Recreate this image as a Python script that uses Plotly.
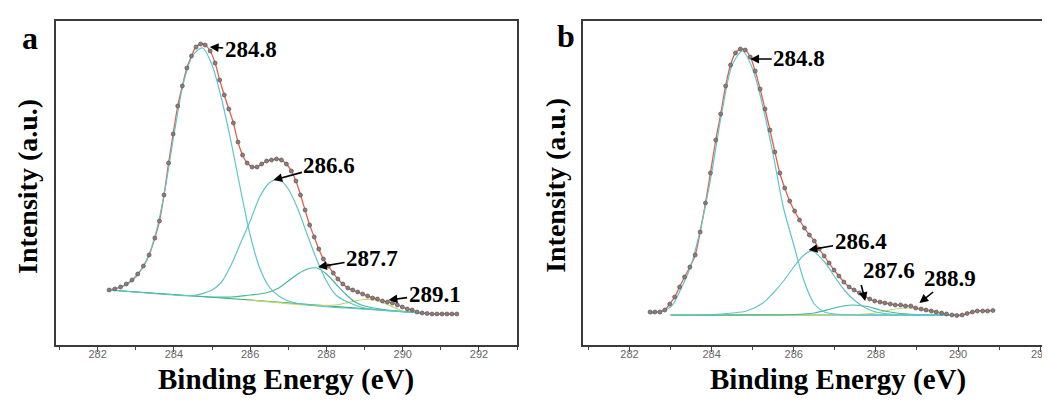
import plotly.graph_objects as go

# ---------------- Panel a : measured data ----------------
a_data_E = [282.30, 282.45, 282.60, 282.75, 282.90, 283.05, 283.20, 283.35, 283.50, 283.62,
            283.74, 283.86, 283.98, 284.10, 284.22, 284.34, 284.46, 284.58, 284.70, 284.82,
            284.95, 285.08, 285.20, 285.32, 285.44, 285.56, 285.68, 285.80, 285.92, 286.05,
            286.18, 286.30, 286.43, 286.56, 286.69, 286.82, 286.95, 287.08, 287.20, 287.32,
            287.44, 287.56, 287.68, 287.80, 287.92, 288.05, 288.18, 288.30, 288.43, 288.56,
            288.69, 288.82, 288.95, 289.08, 289.21, 289.34, 289.47, 289.60, 289.73, 289.86,
            289.99, 290.12, 290.25, 290.38, 290.51, 290.64, 290.77, 290.90, 291.03, 291.16,
            291.29, 291.42]
a_data_I = [55, 56, 58, 61, 65, 71, 79, 90, 107, 124,
            150, 182, 211, 239, 259, 277, 289, 298, 301, 300,
            294, 282, 265, 250, 236, 222, 203, 190, 182, 178,
            178, 181, 184, 185, 186, 185, 181, 174, 164, 150,
            135, 120, 108, 96, 86, 79, 72, 66, 61, 57,
            55, 53, 51, 49, 47, 46, 44, 43, 42, 40,
            38, 36, 35, 33, 32, 31.5, 31, 31, 31, 31,
            31, 31]

# Panel a : fitted components
a_bg_E = [282.3, 286.0, 290.5]
a_bg_I = [55, 45, 32]

a_c1_E = [282.30, 282.75, 283.00, 283.25, 283.50, 283.75, 284.00, 284.25, 284.50, 284.75,
          285.00, 285.25, 285.50, 285.75, 286.00, 286.25, 286.50, 286.75, 287.00, 287.50,
          288.50, 290.50]
a_c1_I = [55, 60, 68, 82, 108, 152, 210, 262, 290, 297,
          280, 246, 203, 155, 110, 77, 58, 49, 44, 40,
          37, 32]

a_c2_E = [282.30, 284.00, 284.50, 285.00, 285.25, 285.50, 285.75, 286.00, 286.25, 286.50,
          286.75, 287.00, 287.25, 287.50, 287.75, 288.00, 288.25, 288.50, 289.00, 290.50]
a_c2_I = [55, 50, 49.5, 55, 63, 80, 102, 124, 148, 162,
          166, 156, 136, 110, 85, 64, 50, 44, 37, 32]

a_c3_E = [282.30, 285.00, 285.50, 286.00, 286.25, 286.50, 286.75, 287.00, 287.25, 287.50,
          287.75, 288.00, 288.25, 288.50, 288.75, 289.00, 289.50, 290.50]
a_c3_I = [55, 48, 48, 50, 51, 53, 57, 64, 71, 76,
          77, 71, 61, 51, 43, 39, 35.5, 32]

a_c4_E = [286.00, 287.50, 288.25, 288.50, 288.75, 289.00, 289.25, 289.50, 289.75, 290.00, 290.50]
a_c4_I = [45, 40, 40, 42, 44, 45.5, 45, 42, 38, 34, 32]

# ---------------- Panel b : measured data ----------------
b_data_E = [282.50, 282.62, 282.74, 282.86, 282.98, 283.10, 283.22, 283.34, 283.47, 283.60,
            283.72, 283.85, 283.97, 284.10, 284.22, 284.34, 284.46, 284.58, 284.70, 284.82,
            284.94, 285.06, 285.18, 285.30, 285.42, 285.54, 285.66, 285.78, 285.90, 286.02,
            286.14, 286.26, 286.38, 286.50, 286.62, 286.74, 286.86, 286.98, 287.10, 287.22,
            287.35, 287.47, 287.60, 287.72, 287.85, 287.97, 288.10, 288.22, 288.35, 288.47,
            288.60, 288.72, 288.85, 288.97, 289.10, 289.22, 289.35, 289.47, 289.60, 289.72,
            289.85, 289.97, 290.10, 290.22, 290.35, 290.47, 290.60, 290.72, 290.85]
b_data_I = [33, 33, 33, 35, 41, 48, 58, 68, 78, 90,
            113, 142, 172, 205, 231, 259, 280, 292, 296, 295,
            288, 274, 256, 236, 215, 193, 172, 157, 144, 134,
            125, 117, 110, 104, 96, 89, 82, 75, 69, 63,
            58, 55, 52, 49, 46, 44, 43, 42, 41, 40,
            40, 39, 39, 37, 36, 35, 34, 33, 32, 31,
            30, 29.5, 30, 31.5, 33, 34, 34, 34, 34.5]

b_bg_E = [283.0, 290.0]
b_bg_I = [30, 30]

b_c1_E = [282.50, 283.00, 283.25, 283.50, 283.75, 284.00, 284.25, 284.50, 284.75, 285.00,
          285.25, 285.50, 285.75, 286.00, 286.25, 286.50, 286.75, 287.00, 287.50, 290.00]
b_c1_I = [31, 38, 56, 80, 120, 172, 233, 280, 294, 276,
          238, 190, 137, 100, 64, 41, 33, 31, 30, 30]

b_c2_E = [283.00, 284.00, 284.50, 284.85, 285.25, 285.50, 285.75, 286.00, 286.25, 286.45,
          286.75, 287.00, 287.25, 287.50, 287.75, 288.00, 288.50, 290.00]
b_c2_I = [30, 30.5, 32, 34, 42, 52, 64, 78, 90, 94,
          83, 68, 54, 44, 37, 33, 30.5, 30]

b_c3_E = [283.00, 286.00, 286.50, 286.90, 287.20, 287.45, 287.80, 288.10, 288.50, 289.00, 290.00]
b_c3_I = [30, 30.5, 32, 36, 39, 40, 38.5, 35, 32, 30.5, 30]

b_c4_E = [283.00, 287.50, 288.00, 288.40, 288.70, 289.00, 289.40, 289.80, 290.00]
b_c4_I = [30, 30.5, 32, 35.5, 37, 36, 33, 30.5, 30]

# tick values / labels
tick_vals = [282, 284, 286, 288, 290, 292]
peak_labels_a = ["284.8", "286.6", "287.7", "289.1"]
peak_labels_b = ["284.8", "286.4", "287.6", "288.9"]

RED = "#e5604a"
C1 = "#5cc6cf"
C2 = "#62c4c3"
C3 = "#45b99e"
C4 = "#c2d672"
BG = "#35a862"
MK = "#8a7f7f"

fig = go.Figure()

def add_panel(xa, ya, dE, dI, bg, comps):
    fig.add_trace(go.Scatter(x=dE, y=dI, mode="lines", line=dict(color=RED, width=1.3, shape="spline"),
                             xaxis=xa, yaxis=ya, hoverinfo="skip"))
    fig.add_trace(go.Scatter(x=bg[0], y=bg[1], mode="lines", line=dict(color=BG, width=1.2),
                             xaxis=xa, yaxis=ya, hoverinfo="skip"))
    for (E, I, col) in comps:
        fig.add_trace(go.Scatter(x=E, y=I, mode="lines", line=dict(color=col, width=1.2, shape="spline", smoothing=0.8),
                                 xaxis=xa, yaxis=ya, hoverinfo="skip"))
    fig.add_trace(go.Scatter(x=dE, y=dI, mode="markers",
                             marker=dict(color=MK, size=4, line=dict(color="#5e5252", width=0.7)),
                             xaxis=xa, yaxis=ya, hoverinfo="skip"))

add_panel("x", "y", a_data_E, a_data_I, (a_bg_E, a_bg_I),
          [(a_c4_E, a_c4_I, C4), (a_c3_E, a_c3_I, C3), (a_c2_E, a_c2_I, C2), (a_c1_E, a_c1_I, C1)])
add_panel("x2", "y2", b_data_E, b_data_I, (b_bg_E, b_bg_I),
          [(b_c4_E, b_c4_I, C4), (b_c3_E, b_c3_I, C3), (b_c2_E, b_c2_I, C2), (b_c1_E, b_c1_I, C1)])

W, H = 1050, 401
ydom = [(401 - 337) / H, (401 - 13) / H]

xcommon = dict(showgrid=False, zeroline=False, showline=True, linecolor="#3a3a3a", linewidth=1.5,
               mirror=True, ticks="outside", ticklen=5, tickwidth=1, tickcolor="#444",
               tickvals=tick_vals, ticktext=[str(v) for v in tick_vals], ticklabelstandoff=-7,
               tickfont=dict(family="Liberation Sans", size=11, color="#666"),
               minor=dict(dtick=1, tick0=281, ticks="outside", ticklen=3, tickcolor="#444"))
ycommon = dict(showgrid=False, zeroline=False, showline=True, linecolor="#3a3a3a", linewidth=1.5,
               mirror=True, showticklabels=False, ticks="", range=[0, 324])

fig.update_layout(
    width=W, height=H, margin=dict(l=0, r=0, t=0, b=0),
    paper_bgcolor="white", plot_bgcolor="white", showlegend=False,
    xaxis=dict(domain=[48 / W, 512 / W], range=[280.9, 293.0], anchor="y", **xcommon),
    yaxis=dict(domain=ydom, anchor="x", **ycommon),
    xaxis2=dict(domain=[578 / W, 1041 / W], range=[280.86, 292.07], anchor="y2", **xcommon),
    yaxis2=dict(domain=ydom, anchor="x2", **ycommon),
)

serif = "Liberation Serif"
ann = []

def arrow(xref, yref, x, y, text, ax, ay, **kw):
    d = dict(xref=xref, yref=yref, x=x, y=y, text="<b>" + text + "</b>", showarrow=True,
             ax=ax, ay=ay, arrowhead=2, arrowsize=1.1, arrowwidth=1.6, arrowcolor="black",
             standoff=0, font=dict(family=serif, size=23, color="black"))
    d.update(kw)
    ann.append(d)

arrow("x", "y", 284.94, 298, peak_labels_a[0], 41, 3)
arrow("x", "y", 286.61, 165, peak_labels_a[1], 56, -15)
arrow("x", "y", 287.78, 78, peak_labels_a[2], 54, -9)
arrow("x", "y", 289.63, 45, peak_labels_a[3], 46, -6)

arrow("x2", "y2", 284.94, 286, peak_labels_b[0], 49, 0)
arrow("x2", "y2", 286.36, 95, peak_labels_b[1], 52, -9)
arrow("x2", "y2", 287.74, 44, peak_labels_b[2], -4, -16, xanchor="left", yanchor="bottom")
arrow("x2", "y2", 289.06, 42, peak_labels_b[3], 31, -25)

def ptext(x, y, text, size, angle=0):
    ann.append(dict(xref="paper", yref="paper", x=x / W, y=1 - y / H, text="<b>" + text + "</b>",
                    showarrow=False, textangle=angle, xanchor="center", yanchor="middle",
                    font=dict(family=serif, size=size, color="black")))

ptext(280, 371, "Binding Energy (eV)", 29)
ptext(835, 371, "Binding Energy (eV)", 29)
ptext(19, 178, "Intensity (a.u.)", 28, -90)
ptext(551, 177, "Intensity (a.u.)", 28, -90)
ptext(22, 30, "a", 32)
ptext(561, 28, "b", 32)

fig.update_layout(annotations=ann)
fig.write_html("out.html")
